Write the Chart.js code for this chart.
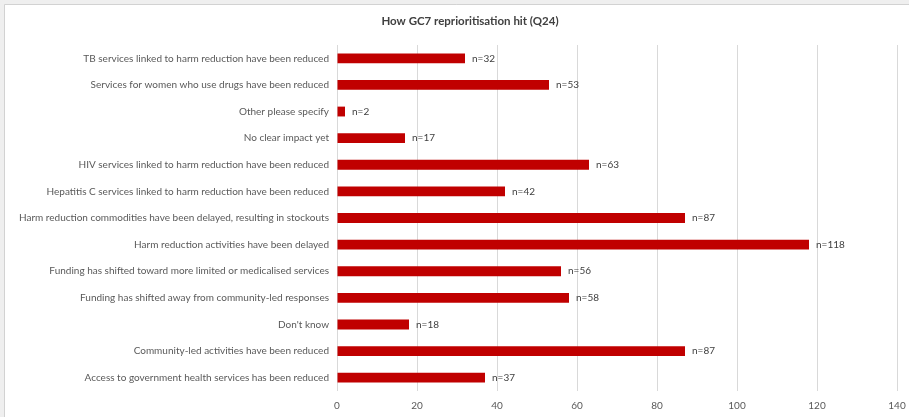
<!DOCTYPE html>
<html>
<head>
<meta charset="utf-8">
<script src="https://cdn.jsdelivr.net/npm/chart.js@4/dist/chart.umd.min.js"></script>
<style>
html,body{margin:0;padding:0;background:#fff;}
#wrap{position:relative;width:909px;height:417px;}
</style>
</head>
<body>
<div id="wrap"><canvas id="c" width="909" height="417"></canvas></div>
<script>
const title = "How GC7 reprioritisation hit (Q24)";
const categories = [
  "TB services linked to harm reduction have been reduced",
  "Services for women who use drugs have been reduced",
  "Other please specify",
  "No clear impact yet",
  "HIV services linked to harm reduction have been reduced",
  "Hepatitis C services linked to harm reduction have been reduced",
  "Harm reduction commodities have been delayed, resulting in stockouts",
  "Harm reduction activities have been delayed",
  "Funding has shifted toward more limited or medicalised services",
  "Funding has shifted away from community-led responses",
  "Don't know",
  "Community-led activities have been reduced",
  "Access to government health services has been reduced"
];
const counts = [32, 53, 2, 17, 63, 42, 87, 118, 56, 58, 18, 87, 37];
const xTicks = [0, 20, 40, 60, 80, 100, 120, 140];

const FONT = "Lato, 'Open Sans', sans-serif";

const frame = {
  id: 'frame',
  beforeDraw(chart) {
    const ctx = chart.ctx;
    ctx.save();
    ctx.fillStyle = '#efefef';
    ctx.fillRect(0, 0, chart.width, chart.height);
    ctx.fillStyle = '#ffffff';
    ctx.fillRect(5, 5, chart.width - 5, chart.height - 5);
    ctx.strokeStyle = '#d2d2d2';
    ctx.lineWidth = 1;
    ctx.beginPath();
    ctx.moveTo(4.5, chart.height);
    ctx.lineTo(4.5, 4.5);
    ctx.lineTo(chart.width, 4.5);
    ctx.stroke();
    ctx.restore();
  }
};

const titleDraw = {
  id: 'titleDraw',
  afterDraw(chart) {
    const ctx = chart.ctx;
    ctx.save();
    ctx.font = "bold 11.5px " + FONT;
    ctx.fillStyle = '#404040';
    ctx.textAlign = 'center';
    ctx.textBaseline = 'middle';
    ctx.fillText(title, 470, 21);
    ctx.restore();
  }
};

const valueLabels = {
  id: 'valueLabels',
  afterDatasetsDraw(chart) {
    const ctx = chart.ctx;
    const meta = chart.getDatasetMeta(0);
    ctx.save();
    ctx.font = "10px " + FONT;
    ctx.fillStyle = '#404040';
    ctx.textAlign = 'left';
    ctx.textBaseline = 'middle';
    meta.data.forEach((bar, i) => {
      ctx.fillText('n=' + counts[i], bar.x + 7, bar.y);
    });
    ctx.restore();
  }
};

new Chart(document.getElementById('c'), {
  type: 'bar',
  data: {
    labels: categories,
    datasets: [{
      data: counts,
      backgroundColor: '#C00000',
      borderWidth: 0,
      categoryPercentage: 1,
      barPercentage: 0.37
    }]
  },
  options: {
    indexAxis: 'y',
    responsive: false,
    animation: false,
    devicePixelRatio: 1,
    layout: { padding: { left: 0, right: 12, top: 45, bottom: 0 } },
    plugins: {
      legend: { display: false },
      tooltip: { enabled: false },
      title: { display: false }
    },
    scales: {
      x: {
        type: 'linear',
        min: 0,
        max: 140,
        afterBuildTicks(scale) { scale.ticks = xTicks.map(v => ({ value: v })); },
        afterFit(scale) { scale.height = 26; scale.paddingRight = 0; scale.paddingLeft = 0; },
        grid: { color: '#d9d9d9', drawTicks: false, lineWidth: 1 },
        border: { display: false },
        ticks: { color: '#595959', font: { family: FONT, size: 10 }, padding: 9 }
      },
      y: {
        afterFit(scale) { scale.width = 337; scale.paddingTop = 0; scale.paddingBottom = 0; },
        grid: { display: false, drawTicks: false },
        border: { display: false },
        ticks: { color: '#595959', font: { family: FONT, size: 10 }, padding: 8, autoSkip: false }
      }
    }
  },
  plugins: [frame, titleDraw, valueLabels]
});
</script>
</body>
</html>
